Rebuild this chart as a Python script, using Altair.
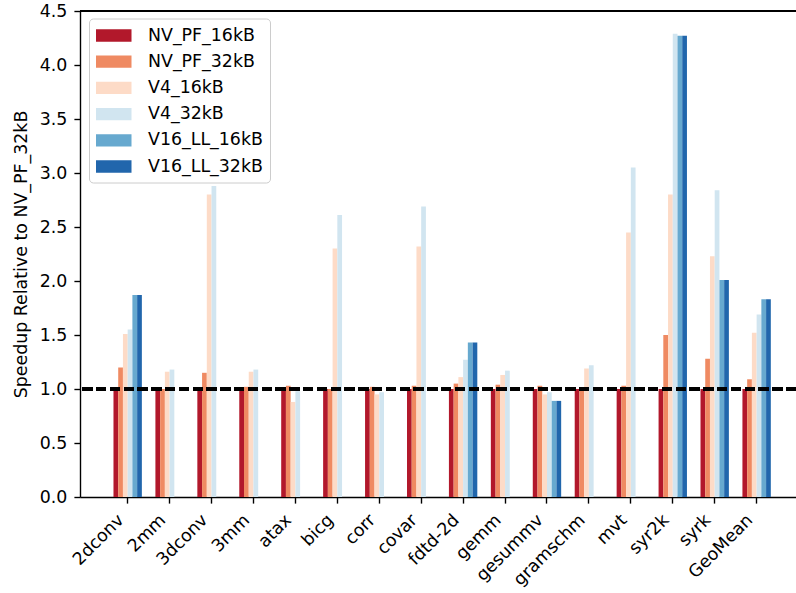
import altair as alt
import pandas as pd

# Benchmarks on the x axis
benchmarks = ["2dconv", "2mm", "3dconv", "3mm", "atax", "bicg", "corr", "covar",
              "fdtd-2d", "gemm", "gesummv", "gramschm", "mvt", "syr2k", "syrk", "GeoMean"]

# Configurations (legend order)
configs = ["NV_PF_16kB", "NV_PF_32kB", "V4_16kB", "V4_32kB", "V16_LL_16kB", "V16_LL_32kB"]
colors = ["#b2182b", "#ef8a62", "#fddbc7", "#d1e5f0", "#67a9cf", "#2166ac"]

# Speedups per configuration (None = not measured)
nv_pf_16kb = [1.00, 1.00, 1.00, 1.00, 1.00, 1.00, 1.00, 1.00,
              1.00, 1.00, 1.00, 1.00, 1.00, 1.00, 1.00, 1.00]
nv_pf_32kb = [1.20, 1.00, 1.15, 1.02, 1.03, 1.00, 1.02, 1.03,
              1.05, 1.04, 1.03, 1.00, 1.03, 1.50, 1.28, 1.09]
v4_16kb = [1.51, 1.16, 2.80, 1.16, 0.88, 2.30, 0.95, 2.32,
           1.11, 1.13, 0.95, 1.19, 2.45, 2.80, 2.23, 1.52]
v4_32kb = [1.55, 1.18, 2.88, 1.18, 0.98, 2.61, 0.97, 2.69,
           1.27, 1.17, 0.97, 1.22, 3.05, 4.29, 2.84, 1.69]
v16_ll_16kb = [1.87, None, None, None, None, None, None, None,
               1.43, None, 0.89, None, None, 4.27, 2.01, 1.83]
v16_ll_32kb = [1.87, None, None, None, None, None, None, None,
               1.43, None, 0.89, None, None, 4.27, 2.01, 1.83]

series = [nv_pf_16kb, nv_pf_32kb, v4_16kb, v4_32kb, v16_ll_16kb, v16_ll_32kb]

rows = []
for cfg, vals in zip(configs, series):
    for b, v in zip(benchmarks, vals):
        if v is not None:
            rows.append({"bench": b, "config": cfg, "speedup": v})
df = pd.DataFrame(rows)

W, H = 716, 486
FS = 17.4

# Wide legend swatch drawn as a custom path
swatch = "M-1.775,-0.615L1.775,-0.615L1.775,0.615L-1.775,0.615Z"

bars = alt.Chart(df).mark_bar().encode(
    x=alt.X("bench:N", sort=benchmarks, title=None,
            scale=alt.Scale(paddingInner=0.323, paddingOuter=0.6995, align=0.5707),
            axis=alt.Axis(labelAngle=-45, labelAlign="right", labelBaseline="alphabetic",
                          labelPadding=17.6, labelOffset=-3)),
    xOffset=alt.XOffset("config:N", sort=configs,
                        scale=alt.Scale(paddingInner=0, paddingOuter=0)),
    y=alt.Y("speedup:Q", title="Speedup Relative to NV_PF_32kB",
            scale=alt.Scale(domain=[0, 4.5], nice=False),
            axis=alt.Axis(values=[0, 0.5, 1, 1.5, 2, 2.5, 3, 3.5, 4, 4.5], format=".1f",
                          titleX=-58.5, titleBaseline="middle", labelPadding=7)),
    color=alt.Color("config:N", sort=configs,
                    scale=alt.Scale(domain=configs, range=colors),
                    legend=alt.Legend(title=None, orient="none", legendX=9, legendY=7.5,
                                      symbolType=swatch, symbolSize=400,
                                      symbolStrokeWidth=0, symbolOpacity=1,
                                      symbolOffset=7.75, labelOffset=24.25,
                                      rowPadding=7.2, padding=7,
                                      labelFontSize=FS, labelColor="black",
                                      fillColor="rgba(255,255,255,0.8)",
                                      strokeColor="#cccccc", cornerRadius=4)),
)

baseline = alt.Chart(df).mark_rule(color="black", strokeWidth=2.6,
                                   strokeDash=[9.6, 4.2]).encode(y=alt.datum(1.0))

top_frame = alt.Chart(df).mark_rule(color="black", strokeWidth=1.39).encode(
    x=alt.value(0), x2=alt.value(W), y=alt.value(0))

chart = alt.layer(bars, baseline, top_frame).properties(
    width=W, height=H,
    autosize=alt.AutoSizeParams(type="none"),
    padding={"left": 80, "top": 11, "right": 0, "bottom": 96},
).configure(
    font="DejaVu Sans",
).configure_view(
    stroke=None,
).configure_axis(
    grid=False,
    domainColor="black", domainWidth=1.39,
    tickColor="black", tickWidth=1.39, tickSize=6.1,
    labelFontSize=FS, labelColor="black", labelFont="DejaVu Sans",
    titleFontSize=FS, titleColor="black", titleFontWeight="normal", titleFont="DejaVu Sans",
).configure_legend(
    labelFont="DejaVu Sans",
)

chart.save("out.html", embed_options={"renderer": "svg", "actions": False})
